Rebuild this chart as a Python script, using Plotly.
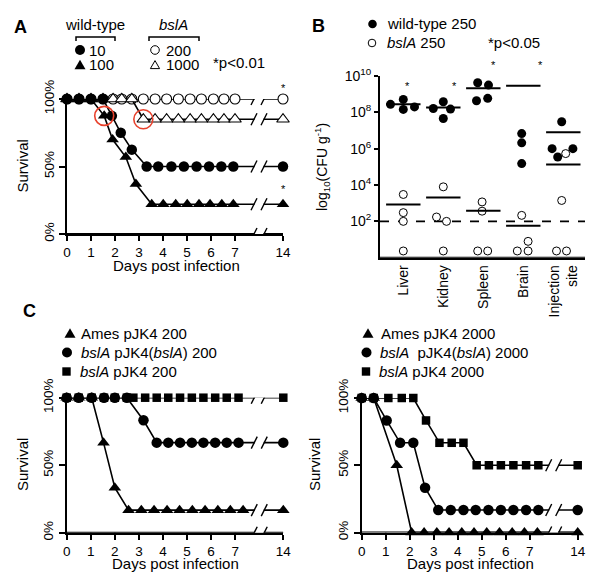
import numpy as np
import plotly.graph_objects as go

W, H = 600, 586
FONT = "Liberation Sans, Arial, sans-serif"

# ---------------- Panel A data (survival %, days) ----------------
A_wt10_days = [0, 0.5, 1, 1.5, 1.87, 2.24, 2.7, 3.32, 3.8, 4.35, 4.87, 5.4, 5.92, 6.43, 6.93, 14]
A_wt10_surv = [100, 100, 100, 100, 87.5, 75, 62.5, 50, 50, 50, 50, 50, 50, 50, 50, 50]
A_wt100_days = [0, 0.5, 1, 1.55, 1.9, 2.45, 2.87, 3.53, 4.01, 4.53, 5.01, 5.5, 5.96, 6.45, 6.93, 14]
A_wt100_surv = [100, 100, 100, 87.5, 70, 57, 37, 22, 22, 22, 22, 22, 22, 22, 22, 22]
A_b200_days = [0, 0.5, 1, 1.5, 1.92, 2.28, 2.7, 3.18, 3.67, 4.15, 4.64, 5.13, 5.6, 6.1, 6.54, 7.0, 14]
A_b200_surv = [100, 100, 100, 100, 100, 100, 100, 100, 100, 100, 100, 100, 100, 100, 100, 100, 100]
A_b1000_days = [0, 0.5, 1, 1.5, 1.92, 2.28, 2.7, 3.18, 3.67, 4.15, 4.64, 5.13, 5.6, 6.1, 6.54, 7.0, 14]
A_b1000_surv = [100, 100, 100, 100, 100, 100, 100, 85, 85, 85, 85, 85, 85, 85, 85, 85, 85]
A_highlight = [("wt100", 3), ("b1000", 7)]

# ---------------- Panel B data (log10 CFU per g) ----------------
B_organs = ["Liver", "Kidney", "Spleen", "Brain", "Injection<br>site"]
B_wt_organ = [0, 0, 0, 0, 1, 1, 1, 1, 2, 2, 2, 2, 3, 3, 3, 3, 4, 4, 4, 4]
B_wt_jitter = [-0.32, 0, 0, 0.28, -0.25, 0, 0, 0.18, -0.14, 0.13, -0.17, 0.11,
               -0.04, -0.04, -0.04, -0.04, -0.04, -0.28, 0.24, -0.14]
B_wt_log = [8.44, 8.71, 8.16, 8.30, 8.21, 8.58, 7.66, 8.18, 9.63, 9.50, 8.64, 8.77,
            10.06, 6.83, 6.32, 5.18, 7.48, 6.0, 6.0, 5.54]
B_bsl_organ = [0, 0, 0, 0, 1, 1, 1, 1, 2, 2, 2, 2, 3, 3, 3, 3, 4, 4, 4, 4]
B_bsl_jitter = [0, 0, 0, 0, 0, -0.17, 0.08, 0, -0.03, -0.03, -0.14, 0.11,
                -0.04, 0.12, -0.15, 0.12, 0.06, -0.04, -0.17, 0.08]
B_bsl_log = [3.48, 2.48, 2.0, 0.37, 3.9, 2.24, 2.0, 0.37, 3.07, 2.56, 0.37, 0.37,
             2.33, 0.9, 0.37, 0.37, 5.73, 3.15, 0.37, 0.37]
B_detection_limit = 100
B_ticks = [1e2, 1e4, 1e6, 1e8, 1e10]
B_ticktext = ["10<sup>2</sup>", "10<sup>4</sup>", "10<sup>6</sup>", "10<sup>8</sup>", "10<sup>10</sup>"]

# ---------------- Panel C data ----------------
CL_ames_days = [0, 0.5, 1.04, 1.53, 2.0, 2.57, 3.1, 3.63, 4.17, 4.69, 5.22, 5.75, 6.28, 6.8, 7.33, 14]
CL_ames_surv = [100, 100, 100, 66.7, 33.3, 16.7, 16.7, 16.7, 16.7, 16.7, 16.7, 16.7, 16.7, 16.7, 16.7, 16.7]
CL_comp_days = [0, 0.5, 1.04, 1.55, 2.0, 2.5, 3.19, 3.74, 4.22, 4.71, 5.2, 5.68, 6.17, 6.65, 7.14, 14]
CL_comp_surv = [100, 100, 100, 100, 100, 100, 83.3, 66.7, 66.7, 66.7, 66.7, 66.7, 66.7, 66.7, 66.7, 66.7]
CL_bsl_days = [0, 0.5, 1.04, 1.55, 2.0, 2.5, 2.77, 3.26, 3.74, 4.22, 4.71, 5.2, 5.68, 6.17, 6.65, 7.14, 14]
CL_bsl_surv = [100, 100, 100, 100, 100, 100, 100, 100, 100, 100, 100, 100, 100, 100, 100, 100, 100]

CR_ames_days = [0, 0.5, 1.46, 2.08, 2.6, 3.13, 3.64, 4.17, 4.68, 5.21, 5.74, 6.27, 6.78, 7.32, 14]
CR_ames_surv = [100, 100, 50, 0, 0, 0, 0, 0, 0, 0, 0, 0, 0, 0, 0]
CR_comp_days = [0, 0.5, 1.04, 1.6, 2.15, 2.64, 3.19, 3.71, 4.24, 4.75, 5.28, 5.8, 6.32, 6.85, 7.36, 14]
CR_comp_surv = [100, 100, 83.3, 66.7, 66.7, 33.3, 16.7, 16.7, 16.7, 16.7, 16.7, 16.7, 16.7, 16.7, 16.7, 16.7]
CR_bsl_days = [0, 0.5, 1.11, 1.67, 2.15, 2.68, 3.24, 3.75, 4.24, 4.79, 5.3, 5.8, 6.32, 6.85, 7.36, 14]
CR_bsl_surv = [100, 100, 100, 100, 100, 83.3, 66.7, 66.7, 66.7, 50, 50, 50, 50, 50, 50, 50]

DAY_TICKS = [0, 1, 2, 3, 4, 5, 6, 7, 14]
BREAK_DAY, BREAK_POS, BREAK_AT = 14, 9, 8.0
DAY_RANGE = [0, 9]
SURV_RANGE = [0, 100]
B_XRANGE = [-0.5825, 4.5425]
B_YRANGE_LOG = [0, 10]

# panel boxes in pixels: (left, right, bottom, top)
BOX_A = (67, 283, 234, 99)
BOX_B = (380, 585, 257.7, 76)
BOX_CL = (66.7, 283.3, 532.7, 397.7)
BOX_CR = (361.7, 577.7, 532.5, 398)


def dpos(days):
    return [BREAK_POS if d >= BREAK_DAY else d for d in days]


def px2x(p):
    return p / W


def px2y(p):
    return 1 - p / H


fig = go.Figure()

MK = {
    "fcircle": dict(symbol="circle", size=10.5, color="black"),
    "ftri": dict(symbol="triangle-up", size=11, color="black"),
    "fsquare": dict(symbol="square", size=8.5, color="black"),
    "ocircle": dict(symbol="circle", size=10, color="white", line=dict(color="black", width=1.1)),
    "otri": dict(symbol="triangle-up", size=11, color="white", line=dict(color="black", width=1.1)),
}


# bottom axis baselines and tick marks, drawn through each axis' own scale
def baseline(xa, ya, xrange_, ybottom, box, tickvals, log=False):
    fig.add_trace(go.Scatter(x=list(xrange_), y=[ybottom, ybottom], mode="lines",
                             xaxis=xa, yaxis=ya, line=dict(color="black", width=2),
                             cliponaxis=False, showlegend=False, hoverinfo="skip"))
    if tickvals:
        span_px = box[2] - box[3]
        dy = 6 * (SURV_RANGE[1] - SURV_RANGE[0]) / span_px
        xs, ys = [], []
        for t in tickvals:
            xs += [t, t, None]
            ys += [ybottom, ybottom - dy, None]
        fig.add_trace(go.Scatter(x=xs, y=ys, mode="lines", xaxis=xa, yaxis=ya,
                                 line=dict(color="black", width=1.5), cliponaxis=False,
                                 showlegend=False, hoverinfo="skip"))


baseline("x", "y", DAY_RANGE, SURV_RANGE[0], BOX_A, dpos(DAY_TICKS))
baseline("x3", "y3", DAY_RANGE, SURV_RANGE[0], BOX_CL, dpos(DAY_TICKS))
baseline("x4", "y4", DAY_RANGE, SURV_RANGE[0], BOX_CR, dpos(DAY_TICKS))
baseline("x2", "y2", B_XRANGE, 10 ** B_YRANGE_LOG[0], BOX_B, [])


def surv(days, s, mk, xa, ya):
    fig.add_trace(go.Scatter(x=dpos(days), y=s, mode="lines+markers", xaxis=xa, yaxis=ya,
                             line=dict(color="black", width=1.6), marker=MK[mk],
                             cliponaxis=False, showlegend=False, hoverinfo="skip"))


# Panel A
surv(A_b200_days, A_b200_surv, "ocircle", "x", "y")
surv(A_b1000_days, A_b1000_surv, "otri", "x", "y")
surv(A_wt100_days, A_wt100_surv, "ftri", "x", "y")
surv(A_wt10_days, A_wt10_surv, "fcircle", "x", "y")
hl_src = {"wt100": (A_wt100_days, A_wt100_surv), "b1000": (A_b1000_days, A_b1000_surv)}
fig.add_trace(go.Scatter(
    x=[hl_src[k][0][i] for k, i in A_highlight], y=[hl_src[k][1][i] for k, i in A_highlight],
    mode="markers", xaxis="x", yaxis="y", cliponaxis=False, showlegend=False,
    marker=dict(symbol="circle-open", size=19, color="#e8412c", line=dict(width=1.6))))

# Panel C left
surv(CL_bsl_days, CL_bsl_surv, "fsquare", "x3", "y3")
surv(CL_ames_days, CL_ames_surv, "ftri", "x3", "y3")
surv(CL_comp_days, CL_comp_surv, "fcircle", "x3", "y3")
# Panel C right
surv(CR_bsl_days, CR_bsl_surv, "fsquare", "x4", "y4")
surv(CR_ames_days, CR_ames_surv, "ftri", "x4", "y4")
surv(CR_comp_days, CR_comp_surv, "fcircle", "x4", "y4")

# Panel B points
fig.add_trace(go.Scatter(
    x=[o + j for o, j in zip(B_bsl_organ, B_bsl_jitter)], y=[10 ** v for v in B_bsl_log],
    mode="markers", xaxis="x2", yaxis="y2", cliponaxis=False, showlegend=False,
    marker=dict(symbol="circle", size=8, color="white", line=dict(color="black", width=1))))
fig.add_trace(go.Scatter(
    x=[o + j for o, j in zip(B_wt_organ, B_wt_jitter)], y=[10 ** v for v in B_wt_log],
    mode="markers", xaxis="x2", yaxis="y2", cliponaxis=False, showlegend=False,
    marker=dict(symbol="circle", size=9, color="black")))


def mean_lines(organ, logv):
    xs, ys = [], []
    org = np.array(organ)
    vals = 10 ** np.array(logv)
    for i in range(len(B_organs)):
        m = vals[org == i].mean()
        xs += [i - 0.43, i + 0.43, None]
        ys += [m, m, None]
    fig.add_trace(go.Scatter(x=xs, y=ys, mode="lines", xaxis="x2", yaxis="y2",
                             line=dict(color="black", width=2), cliponaxis=False,
                             showlegend=False, hoverinfo="skip"))


mean_lines(B_wt_organ, B_wt_log)
mean_lines(B_bsl_organ, B_bsl_log)

shapes = []
shapes.append(dict(type="line", xref="x2 domain", yref="y2", x0=0, x1=1,
                   y0=B_detection_limit, y1=B_detection_limit,
                   line=dict(color="black", width=1.8, dash="dash"), layer="below"))


def breaks(xa, ya, levels):
    for lv in sorted(set(levels)):
        common = dict(xref=xa, yref=ya, xsizemode="pixel", ysizemode="pixel",
                      xanchor=BREAK_AT, yanchor=lv, layer="above")
        shapes.append(dict(type="rect", x0=-4.5, x1=4.5, y0=-4, y1=4, fillcolor="white",
                           line=dict(width=0), **common))
        shapes.append(dict(type="line", x0=-8, x1=-2, y0=-6, y1=6,
                           line=dict(color="black", width=1.4), **common))
        shapes.append(dict(type="line", x0=2, x1=8, y0=-6, y1=6,
                           line=dict(color="black", width=1.4), **common))


breaks("x", "y", [0, A_wt10_surv[-1], A_wt100_surv[-1], A_b200_surv[-1], A_b1000_surv[-1]])
breaks("x3", "y3", [0, CL_ames_surv[-1], CL_comp_surv[-1], CL_bsl_surv[-1]])
breaks("x4", "y4", [0, CR_ames_surv[-1], CR_comp_surv[-1], CR_bsl_surv[-1]])

# legend brackets (paper coords)
for x0, x1 in [(76, 115), (149, 199)]:
    shapes.append(dict(type="path", xref="paper", yref="paper",
                       path=(f"M {px2x(x0)},{px2y(41)} L {px2x(x0)},{px2y(37)} "
                             f"L {px2x(x1)},{px2y(37)} L {px2x(x1)},{px2y(41)}"),
                       line=dict(color="black", width=1.5)))

# legend key symbols drawn as pixel-sized shapes
TRI_PATH = "M -5.5,-4.3 L 5.5,-4.3 L 0,5.2 Z"
TRI_PATH_S = "M -4.6,-3.6 L 4.6,-3.6 L 0,4.4 Z"
LEG = [  # x px, y px, kind
    (80, 50, "fcircle"), (80, 65, "ftri"), (155, 50, "ocircle"), (155, 65, "otri"),
    (372.5, 24, "fcircle_s"), (372, 43, "ocircle_s"),
    (70, 333.5, "ftri"), (67, 352.5, "fcircle"), (66.5, 371.5, "fsquare"),
    (368, 333.5, "ftri"), (366.5, 352.5, "fcircle"), (366, 371.5, "fsquare"),
]
for lx, ly, kind in LEG:
    c = dict(xref="paper", yref="paper", xsizemode="pixel", ysizemode="pixel",
             xanchor=px2x(lx), yanchor=px2y(ly))
    if kind.startswith("fcircle"):
        r = 5 if kind == "fcircle" else 4.3
        shapes.append(dict(type="circle", x0=-r, x1=r, y0=-r, y1=r, fillcolor="black",
                           line=dict(width=0), **c))
    elif kind.startswith("ocircle"):
        r = 4.3 if kind == "ocircle" else 3.8
        shapes.append(dict(type="circle", x0=-r, x1=r, y0=-r, y1=r, fillcolor="white",
                           line=dict(width=1, color="black"), **c))
    elif kind == "ftri":
        shapes.append(dict(type="path", path=TRI_PATH, fillcolor="black",
                           line=dict(width=0), **c))
    elif kind == "otri":
        shapes.append(dict(type="path", path=TRI_PATH_S, fillcolor="white",
                           line=dict(width=1, color="black"), **c))
    elif kind == "fsquare":
        shapes.append(dict(type="rect", x0=-4.2, x1=4.2, y0=-4.2, y1=4.2, fillcolor="black",
                           line=dict(width=0), **c))

ann = []


def txt(x, y, t, size=15, xanchor="left", angle=0, bold=False, yanchor="middle"):
    ann.append(dict(x=px2x(x), y=px2y(y), xref="paper", yref="paper",
                    text=(f"<b>{t}</b>" if bold else t),
                    showarrow=False, xanchor=xanchor, yanchor=yanchor, textangle=angle,
                    font=dict(family=FONT, size=size, color="black")))


# panel letters
txt(20, 27, "A", 18, "center", bold=True)
txt(318, 26, "B", 18, "center", bold=True)
txt(29, 311, "C", 18, "center", bold=True)
# A legend
txt(95, 25, "wild-type", 15, "center")
txt(173, 25, "<i>bslA</i>", 15, "center")
txt(87, 50, "10")
txt(87, 65, "100")
txt(164, 50, "200")
txt(164, 65, "1000")
txt(211, 62, "*p<0.01")
txt(283, 88, "*", 11, "center")
txt(283, 189, "*", 11, "center")
# B legend
txt(385, 24, "wild-type 250")
txt(385, 43, "<i>bslA</i> 250")
txt(486, 43, "*p<0.05")
for ax_, ay_ in [(407, 86), (454, 86), (493, 65), (540, 65)]:
    txt(ax_, ay_, "*", 11, "center")
txt(322, 167, "log<sub>10</sub>(CFU g<sup>-1</sup>)", 14, "center", angle=-90)
# C legends
txt(79, 333.5, "Ames pJK4 200")
txt(79, 352.5, "<i>bslA</i> pJK4(<i>bslA</i>) 200")
txt(78, 371.5, "<i>bslA</i> pJK4 200")
txt(378.5, 333.5, "Ames pJK4 2000")
txt(377.5, 352.5, "<i>bslA</i>  pJK4(<i>bslA</i>) 2000")
txt(377, 371.5, "<i>bslA</i> pJK4 2000")
# axis titles
txt(22, 166.5, "Survival", 15, "center", angle=-90)
txt(22, 465, "Survival", 15, "center", angle=-90)
txt(314, 465, "Survival", 15, "center", angle=-90)
txt(176, 265, "Days post infection", 15, "center")
txt(175, 563, "Days post infection", 15, "center")
txt(470, 563, "Days post infection", 15, "center")

tickfont = dict(family=FONT, size=13.5, color="black")
day_axis = dict(range=DAY_RANGE, tickvals=dpos(DAY_TICKS), ticktext=[str(d) for d in DAY_TICKS],
                showline=True, linewidth=2, linecolor="black", ticks="outside", ticklen=5,
                tickwidth=1.5, tickcolor="black", showgrid=False, zeroline=False, tickfont=tickfont,
                fixedrange=True, automargin=False, side="bottom", mirror=False)
surv_axis = dict(range=SURV_RANGE, tickvals=[0, 50, 100], ticktext=["0%", "50%", "100%"],
                 tickangle=-90, showline=True, linewidth=2, linecolor="black", ticks="outside",
                 ticklen=6, tickwidth=1.5, tickcolor="black", showgrid=False, zeroline=False,
                 tickfont=tickfont, fixedrange=True, automargin=False)


def dom(box):
    l, r, b, t = box
    return [px2x(l), px2x(r)], [px2y(b), px2y(t)]


fig.update_layout(
    template="none",
    width=W, height=H, margin=dict(l=0, r=0, t=0, b=0),
    paper_bgcolor="white", plot_bgcolor="white", showlegend=False,
    font=dict(family=FONT, color="black"),
    xaxis=dict(domain=dom(BOX_A)[0], anchor="y", **day_axis),
    yaxis=dict(domain=dom(BOX_A)[1], anchor="x", **surv_axis),
    xaxis2=dict(domain=dom(BOX_B)[0], anchor="y2", range=B_XRANGE,
                tickvals=list(range(len(B_organs))), ticktext=B_organs, tickangle=-90,
                showline=True, linewidth=2, linecolor="black", ticks="", showgrid=False,
                zeroline=False, automargin=False, fixedrange=True,
                tickfont=dict(family=FONT, size=14, color="black")),
    yaxis2=dict(domain=dom(BOX_B)[1], anchor="x2", type="log", range=B_YRANGE_LOG,
                tickvals=B_ticks, ticktext=B_ticktext, showline=True, linewidth=2,
                linecolor="black", ticks="outside", ticklen=4, tickwidth=1.5, tickcolor="black",
                showgrid=False, zeroline=False, automargin=False, fixedrange=True,
                tickfont=dict(family=FONT, size=14, color="black")),
    xaxis3=dict(domain=dom(BOX_CL)[0], anchor="y3", **day_axis),
    yaxis3=dict(domain=dom(BOX_CL)[1], anchor="x3", **surv_axis),
    xaxis4=dict(domain=dom(BOX_CR)[0], anchor="y4", **day_axis),
    yaxis4=dict(domain=dom(BOX_CR)[1], anchor="x4", **surv_axis),
    shapes=shapes, annotations=ann,
)

fig.write_html("out.html", post_script="document.body.style.margin='0';",
               config={"displayModeBar": False})
